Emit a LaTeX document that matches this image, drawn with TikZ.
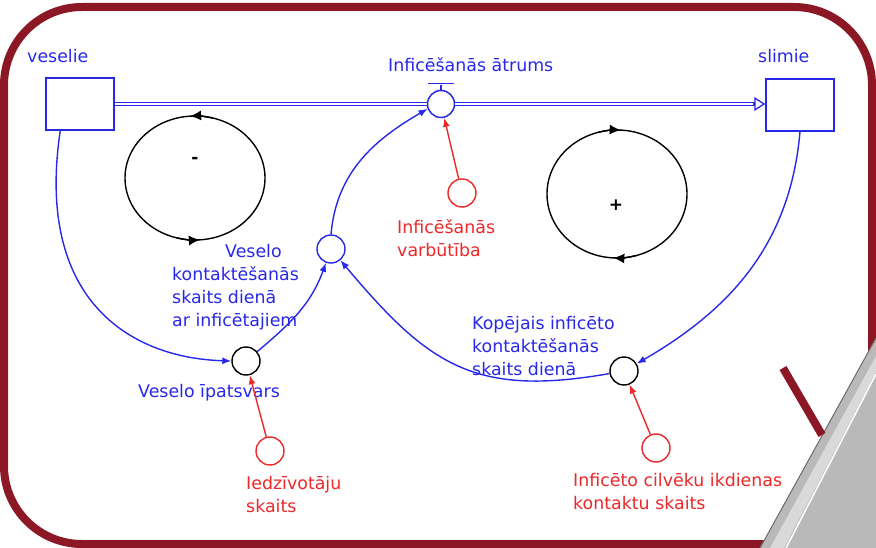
\documentclass[tikz,border=0pt]{standalone}
\usepackage{fontspec}
\setmainfont{DejaVu Sans}
\usetikzlibrary{arrows.meta}
\definecolor{sdblue}{RGB}{40,40,232}
\definecolor{sdred}{RGB}{236,40,40}
\definecolor{framered}{RGB}{140,24,38}

\begin{document}
\begin{tikzpicture}[x=1pt,y=1pt,
    font=\fontsize{17.4}{23}\selectfont,
    stock/.style={draw=sdblue,line width=1.5pt,minimum width=68pt,minimum height=52pt,inner sep=0pt},
    valvebox/.style={circle,draw=sdblue,fill=white,line width=1.5pt,minimum size=27pt,inner sep=0pt},
    auxblue/.style={circle,draw=sdblue,line width=1.4pt,minimum size=28pt,inner sep=0pt},
    auxblack/.style={circle,draw=black,line width=1.4pt,minimum size=28pt,inner sep=0pt},
    auxred/.style={circle,draw=sdred,line width=1.4pt,minimum size=28pt,inner sep=0pt},
    bluetext/.style={text=sdblue,inner sep=0pt},
    redtext/.style={text=sdred,inner sep=0pt,align=left},
    pipe/.style={draw=sdblue,double=white,line width=1.3pt,double distance=2.2pt},
    pipehead/.style={draw=sdblue,line width=1.3pt,-{Triangle[open,length=11pt,width=14pt]}},
    link/.style={draw=sdblue,line width=1.4pt,-{Latex[length=9pt,width=7pt]}},
    redlink/.style={draw=sdred,line width=1.4pt,-{Latex[length=9pt,width=7pt]}},
    loopline/.style={draw=black,line width=1.4pt},
    looptip/.style={draw=black,line width=1.4pt,-{Latex[length=11pt,width=10pt]}}]
\useasboundingbox (0,0) rectangle (876,-548);

% frame
\draw[framered,line width=8pt,rounded corners=78pt] (4,-7) rectangle (872,-544);

% stocks and flow
\node[stock] (veselie) at (80,-104) {};
\node[stock] (slimie) at (800,-105) {};
\node[bluetext,anchor=base west] (veselielabel) at (27,-63) {veselie};
\node[bluetext,anchor=base west] (slimielabel) at (758,-63) {slimie};
\node[valvebox] (valve) at (441,-104) {};
\draw[pipe] (veselie.east) -- (valve.west);
\draw[pipe,shorten >=10pt] (valve.east) -- (valve.east -| slimie.west);
\draw[pipehead] ([xshift=-12pt]valve.east -| slimie.west) -- (valve.east -| slimie.west);
\draw[sdblue,line width=1.3pt] (valve.north) -- ++(0,5);
\draw[sdblue,line width=1.5pt] ([xshift=-13pt,yshift=6pt]valve.north) -- ++(26,0);
\node[bluetext,anchor=base west] (valvelabel) at (388,-72) {Inficēšanās ātrums};

% auxiliaries
\node[auxblue] (kontakti) at (331,-249) {};
\node[auxblack] (ipatsvars) at (246,-361) {};
\node[auxred] (iedzivotaji) at (270,-451) {};
\node[auxred] (varbutiba) at (462,-193) {};
\node[auxblack] (kopejais) at (624,-371) {};
\node[auxred] (ikdienas) at (656,-448) {};

\node[bluetext,align=left,anchor=north west] (kontaktilabel) at (172,-244)
    {\hspace*{53pt}Veselo\\kontaktēšanās\\skaits dienā\\ar inficētajiem};
\node[bluetext,anchor=base west] (ipatsvarslabel) at (138,-397) {Veselo īpatsvars};
\node[redtext,anchor=north west] (iedzivotajilabel) at (246,-476) {Iedzīvotāju\\skaits};
\node[redtext,anchor=north west] (varbutibalabel) at (397,-219) {Inficēšanās\\varbūtība};
\node[bluetext,align=left,anchor=north west] (kopejaislabel) at (472,-316)
    {Kopējais inficēto\\kontaktēšanās\\skaits dienā};
\node[redtext,anchor=north west] (ikdienaslabel) at (573,-473) {Inficēto cilvēku ikdienas\\kontaktu skaits};

% links
\draw[link] ([xshift=15pt]veselie.south west) .. controls (35,-300) and (130,-358) .. (ipatsvars.west);
\draw[link] (ipatsvars.40) to[out=40,in=-110] (kontakti.-110);
\draw[link] (kontakti.north) to[out=85,in=-150] (valve.200);
\draw[link] (slimie.south) to[out=-95,in=30] (kopejais.30);
\draw[link] (kopejais.190) to[out=190,in=-50,looseness=1.2] (kontakti.-50);
\draw[redlink] (iedzivotaji) -- (ipatsvars);
\draw[redlink] (varbutiba) -- (valve);
\draw[redlink] (ikdienas) -- (kopejais);

% loops
\coordinate (negloop) at (195,-178);
\coordinate (posloop) at (617,-194);
\draw[loopline] (negloop) ellipse [x radius=70,y radius=62];
\draw[looptip] (negloop) ++(75:70 and 62) arc[start angle=75,end angle=94,x radius=70,y radius=62];
\draw[looptip] (negloop) ++(255:70 and 62) arc[start angle=255,end angle=274,x radius=70,y radius=62];
\node[font=\fontsize{17}{20}\selectfont\bfseries] (negsign) at (195,-160) {-};
\draw[loopline] (posloop) ellipse [x radius=70,y radius=64];
\draw[looptip] (posloop) ++(106:70 and 64) arc[start angle=106,end angle=87,x radius=70,y radius=64];
\draw[looptip] (posloop) ++(286:70 and 64) arc[start angle=286,end angle=267,x radius=70,y radius=64];
\node[font=\fontsize{17}{20}\selectfont\bfseries] (possign) at (616,-205) {+};

% page curl
\fill[gray!55] (760,-548) -- (876,-338) -- (876,-548) -- cycle;
\fill[gray!30] (770,-548) -- (876,-356) -- (876,-372) -- (784,-548) -- cycle;
\draw[white,line width=1.5pt] (786,-548) -- (876,-374);
\draw[gray!85!black,line width=1pt] (760,-548) -- (876,-338);
\draw[framered,line width=8pt] (783,-368) -- (822,-435);
\end{tikzpicture}
\end{document}
